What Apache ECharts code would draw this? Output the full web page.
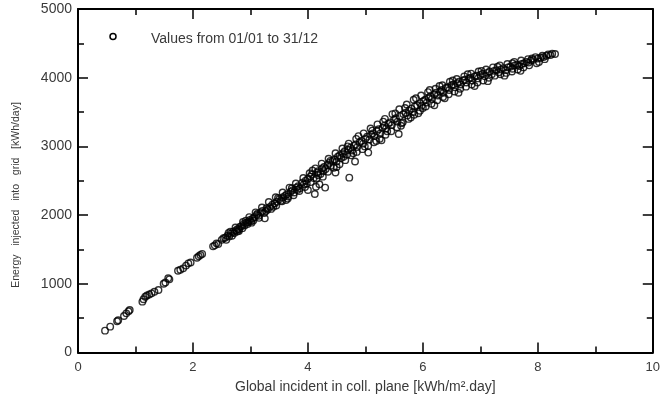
<!DOCTYPE html>
<html>
<head>
<meta charset="utf-8">
<script src="https://cdn.jsdelivr.net/npm/echarts@6/dist/echarts.min.js"></script>
<style>
  html, body { margin: 0; padding: 0; background: #fff; }
  #chart { width: 663px; height: 400px; }
</style>
</head>
<body>
<div id="chart"></div>
<script>
// Daily global irradiance in the collector plane [kWh/m².day]
const irradiance = [
  0.47, 0.56, 0.68, 0.70, 0.80, 0.84, 0.90, 0.88, 1.12, 1.14,
  1.17, 1.20, 1.24, 1.28, 1.33, 1.40, 1.49, 1.52, 1.57, 1.59,
  1.74, 1.78, 1.83, 1.88, 1.92, 1.96, 2.07, 2.10, 2.13, 2.16,
  2.35, 2.38, 2.41, 2.44, 2.50, 2.53, 2.56, 2.60, 2.63, 2.66,
  2.70, 2.72, 2.75, 2.78, 2.80, 2.82, 2.85, 2.88, 2.90, 2.93,
  2.96, 2.99, 3.01, 3.04, 3.07, 3.11, 3.14, 3.18, 3.21, 3.25,
  3.28, 3.30, 3.34, 3.38, 3.42, 3.46, 3.50, 3.53, 3.57, 3.60,
  3.63, 3.66, 3.70, 3.73, 3.76, 3.80, 3.83, 3.86, 3.90, 3.93,
  3.96, 4.00, 4.00, 4.04, 4.07, 4.10, 4.12, 4.14, 4.16, 4.18,
  4.22, 4.25, 4.28, 4.31, 4.34, 4.37, 4.40, 4.43, 4.46, 4.50,
  4.52, 4.55, 4.58, 4.61, 4.64, 4.68, 4.70, 4.72, 4.74, 4.77,
  4.80, 4.83, 4.86, 4.90, 4.93, 4.96, 5.00, 5.03, 5.05, 5.07,
  5.10, 5.13, 5.16, 5.20, 5.23, 5.26, 5.30, 5.33, 5.36, 5.40,
  5.43, 5.46, 5.50, 5.53, 5.56, 5.60, 5.63, 5.66, 5.70, 5.73,
  5.76, 5.80, 5.83, 5.86, 5.90, 5.92, 5.95, 5.98, 6.01, 6.04,
  6.07, 6.10, 6.13, 6.16, 6.20, 6.23, 6.26, 6.30, 6.33, 6.36,
  6.40, 6.43, 6.46, 6.50, 6.53, 6.56, 6.60, 6.63, 6.66, 6.70,
  6.73, 6.76, 6.80, 6.83, 6.86, 6.90, 6.93, 6.96, 7.00, 7.04,
  7.08, 7.12, 7.16, 7.20, 7.24, 7.28, 7.32, 7.36, 7.40, 7.44,
  7.48, 7.52, 7.56, 7.60, 7.64, 7.68, 7.72, 7.76, 7.80, 7.84,
  7.88, 7.92, 7.98, 8.00, 8.05, 8.10, 8.15, 8.22, 8.30,
  2.58, 2.68, 2.77, 2.86, 2.95, 3.05, 3.15, 3.24, 3.36, 3.45,
  3.55, 3.65, 3.75, 3.85, 3.95, 4.05, 4.15, 4.20, 4.26, 4.30,
  4.35, 4.45, 4.48, 4.55, 4.65, 4.75, 4.82, 4.85, 4.95, 5.05,
  5.15, 5.28, 5.25, 5.35, 5.45, 5.55, 5.58, 5.65, 5.75, 5.85,
  5.95, 6.05, 6.15, 6.25, 6.35, 6.45, 6.55, 6.65, 6.75, 6.85,
  6.95, 7.05, 7.15, 7.25, 7.35, 7.45, 7.55, 7.65, 7.75, 7.85,
  2.62, 2.74, 2.87, 2.98, 3.09, 3.20, 3.32, 3.44, 3.56, 3.68,
  3.79, 3.92, 4.03, 4.13, 4.24, 4.36, 4.48, 4.60, 4.71, 4.84,
  4.97, 5.09, 5.21, 5.34, 5.47, 5.59, 5.72, 5.84, 5.97, 6.09,
  6.22, 6.34, 6.47, 6.59, 6.72, 6.84, 6.97, 7.10, 7.22, 7.34,
  7.47, 7.59, 7.71, 7.83, 7.96, 8.08, 8.18,
  2.65, 2.80, 2.92, 3.02, 3.12, 3.27, 3.40, 3.48, 3.62, 3.72,
  3.82, 3.98, 4.08, 4.18, 4.27, 4.39, 4.50, 4.62, 4.69, 4.79,
  4.88, 4.99, 5.12, 5.19, 5.31, 5.38, 5.52, 5.62, 5.69, 5.79,
  5.88, 6.00, 6.12, 6.20, 6.29, 6.38, 6.52, 6.62, 6.78, 6.90,
  7.02, 7.13, 7.30, 7.42, 7.56, 7.70, 7.90, 8.02, 8.12, 8.25
];

// Daily energy injected into the grid [kWh/day], same order as irradiance
const energy = [
  318, 376, 455, 470, 531, 570, 619, 600, 740, 775,
  812, 830, 845, 861, 885, 910, 1000, 1020, 1080, 1065,
  1191, 1205, 1225, 1265, 1298, 1310, 1380, 1400, 1420, 1435,
  1545, 1560, 1589, 1580, 1640, 1662, 1670, 1700, 1690, 1730,
  1758, 1740, 1780, 1800, 1790, 1831, 1840, 1870, 1850, 1890,
  1900, 1929, 1910, 1950, 1970, 2001, 1990, 2040, 2060, 1953,
  2099, 2080, 2120, 2150, 2170, 2195, 2230, 2210, 2260, 2280,
  2300, 2270, 2340, 2360, 2330, 2400, 2420, 2390, 2470, 2450,
  2500, 2365, 2530, 2560, 2590, 2540, 2307, 2413, 2620, 2640,
  2600, 2680, 2700, 2670, 2730, 2760, 2720, 2790, 2810, 2780,
  2850, 2870, 2830, 2900, 2930, 2880, 2950, 2545, 2980, 2940,
  3010, 3030, 2990, 3060, 3080, 3040, 3110, 3140, 2910, 3100,
  3170, 3190, 3150, 3220, 3250, 3190, 3270, 3300, 3260, 3330,
  3350, 3310, 3390, 3410, 3360, 3440, 3336, 3470, 3490, 3450,
  3520, 3550, 3500, 3580, 3600, 3482, 3630, 3590, 3660, 3680,
  3640, 3710, 3730, 3690, 3760, 3780, 3740, 3800, 3820, 3780,
  3850, 3860, 3820, 3890, 3900, 3860, 3920, 3940, 3900, 3960,
  3970, 3930, 3990, 4000, 3960, 4020, 4030, 3990, 4040, 4060,
  4020, 4070, 4090, 4050, 4100, 4110, 4080, 4120, 4140, 4110,
  4150, 4160, 4130, 4180, 4190, 4170, 4200, 4210, 4230, 4220,
  4250, 4260, 4210, 4280, 4290, 4300, 4320, 4330, 4345,
  1640, 1700, 1760, 1810, 1870, 1920, 1960, 2030, 2090, 2140,
  2200, 2240, 2290, 2350, 2410, 2480, 2530, 2450, 2560, 2400,
  2630, 2690, 2620, 2740, 2800, 2870, 2780, 2920, 2960, 3010,
  3060, 3090, 3110, 3170, 3220, 3280, 3180, 3350, 3400, 3460,
  3520, 3580, 3620, 3670, 3720, 3760, 3800, 3840, 3870, 3900,
  3930, 3960, 4000, 4030, 4050, 4070, 4090, 4120, 4150, 4180,
  1740, 1820, 1900, 1970, 2040, 2110, 2190, 2260, 2330, 2400,
  2460, 2540, 2610, 2680, 2750, 2820, 2900, 2970, 3040, 3110,
  3190, 3260, 3320, 3400, 3470, 3540, 3610, 3680, 3740, 3790,
  3840, 3890, 3940, 3980, 4020, 4060, 4090, 4120, 4150, 4180,
  4200, 4230, 4250, 4270, 4300, 4320, 4340,
  1760, 1770, 1920, 1890, 2020, 2060, 2120, 2250, 2220, 2390,
  2370, 2460, 2650, 2580, 2640, 2790, 2700, 2850, 3000, 2900,
  3150, 3000, 3230, 3080, 3360, 3220, 3480, 3300, 3560, 3420,
  3700, 3560, 3820, 3600, 3880, 3700, 3960, 3780, 4050, 3880,
  4100, 3950, 4160, 4030, 4210, 4100, 4280, 4230, 4270, 4350
];

const seriesName = 'Values from 01/01 to 31/12';
const xTitle = 'Global incident in coll. plane [kWh/m\u00B2.day]';
const yTitle = 'Energy   injected   into   grid   [kWh/day]';

const points = irradiance.map((x, i) => [x, energy[i]]);

const FONT = '"Liberation Sans", Arial, sans-serif';
const INK = '#000';
const TEXT = '#3a3a3a';

function frameAxis(extra) {
  return Object.assign({
    type: 'value',
    splitLine: { show: false },
    axisLine: { show: true, onZero: false, lineStyle: { color: INK, width: 2 } },
    axisTick: { show: true, inside: true, length: 10, lineStyle: { color: INK, width: 1.5 } },
    minorTick: { show: true, splitNumber: 2, length: 6, lineStyle: { color: INK, width: 1.5 } }
  }, extra);
}

const chart = echarts.init(document.getElementById('chart'), null, { renderer: 'canvas' });

chart.setOption({
  animation: false,
  backgroundColor: '#fff',
  grid: { left: 78, right: 10, top: 9, bottom: 47.5, containLabel: false },
  xAxis: [
    frameAxis({
      position: 'bottom', min: 0, max: 10, interval: 2,
      axisLabel: { show: true, margin: 8, fontFamily: FONT, fontSize: 13, color: TEXT },
      name: xTitle, nameLocation: 'middle', nameGap: 28,
      nameTextStyle: { fontFamily: FONT, fontSize: 14, color: TEXT }
    }),
    frameAxis({
      position: 'top', min: 0, max: 10, interval: 2,
      axisLabel: { show: false }
    })
  ],
  yAxis: [
    frameAxis({
      position: 'left', min: 0, max: 5000, interval: 1000,
      axisLabel: {
        show: true, margin: 6, fontFamily: FONT, fontSize: 14, color: TEXT,
        formatter: (v) => String(v)
      }
    }),
    frameAxis({
      position: 'right', min: 0, max: 5000, interval: 1000,
      axisLabel: { show: false }
    })
  ],
  graphic: [
    {
      // legend marker and caption
      type: 'circle',
      shape: { cx: 113, cy: 36.5, r: 3 },
      style: { fill: 'none', stroke: INK, lineWidth: 1.5 }
    },
    {
      type: 'text',
      x: 151,
      y: 39,
      style: {
        text: seriesName,
        font: '14px ' + FONT,
        fill: TEXT,
        align: 'left',
        verticalAlign: 'middle'
      }
    },
    {
      type: 'text',
      x: 16,
      y: 195,
      rotation: Math.PI / 2,
      style: {
        text: yTitle,
        font: '10.5px ' + FONT,
        fill: TEXT,
        align: 'center',
        verticalAlign: 'middle'
      }
    }
  ],
  series: [{
    name: seriesName,
    type: 'scatter',
    xAxisIndex: 0,
    yAxisIndex: 0,
    symbol: 'circle',
    symbolSize: 6.5,
    itemStyle: { color: 'rgba(0,0,0,0)', borderColor: INK, borderWidth: 1.4 },
    data: points
  }]
});
</script>
</body>
</html>
